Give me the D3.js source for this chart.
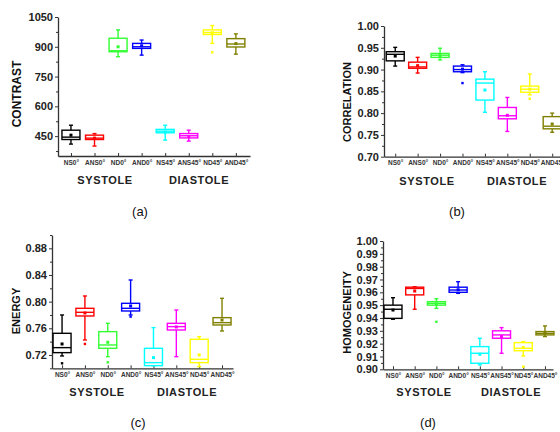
<!DOCTYPE html>
<html>
<head>
<meta charset="utf-8">
<script src="https://cdn.jsdelivr.net/npm/d3@7"></script>
<style>
  body { margin: 0; background: #fff; }
  svg { display: block; }
  text { font-family: "Liberation Sans", Arial, sans-serif; }
</style>
</head>
<body>
<script>
'use strict';

const width = 560;
const height = 432;

const categories = ['NS0°', 'ANS0°', 'ND0°', 'AND0°', 'NS45°', 'ANS45°', 'ND45°', 'AND45°'];
const boxColors = ['#000000', '#ff0000', '#33ff33', '#0000ff', '#00ffff', '#ff00ff', '#ffff00', '#808000'];

// [whisker low, q1, median, q3, whisker high]
const contrastBox = [[410, 433, 445, 480, 505], [400, 433, 440, 455, 463], [850, 875, 880, 943, 985], [858, 892, 900, 917, 934],
    [430, 467, 475, 484, 505], [425, 441, 452, 463, 480], [917, 962, 972, 985, 1007], [863, 899, 914, 941, 965]];
const contrastMean = [455, 440, 900, 905, 470, 448, 970, 916];
const contrastOutliers = [[], [], [], [], [], [], [872], []];
const contrastTicks = [450, 600, 750, 900, 1050];

const correlationBox = [[0.908, 0.920, 0.935, 0.941, 0.951], [0.892, 0.903, 0.906, 0.917, 0.928], [0.922, 0.928, 0.933, 0.937, 0.949],
    [0.893, 0.895, 0.900, 0.908, 0.911], [0.802, 0.830, 0.869, 0.878, 0.895], [0.758, 0.787, 0.794, 0.813, 0.836],
    [0.842, 0.848, 0.855, 0.862, 0.890], [0.756, 0.764, 0.770, 0.792, 0.800]];
const correlationMean = [0.931, 0.909, 0.932, 0.901, 0.853, 0.795, 0.855, 0.775];
const correlationOutliers = [[], [], [], [0.869], [], [], [0.833], []];
const correlationTicks = [0.70, 0.75, 0.80, 0.85, 0.90, 0.95, 1.00];

const energyBox = [[0.7185, 0.7235, 0.731, 0.7525, 0.780], [0.7425, 0.7785, 0.784, 0.790, 0.8085], [0.7175, 0.730, 0.735, 0.755, 0.7675],
    [0.780, 0.786, 0.790, 0.7975, 0.8325], [0.704, 0.704, 0.7085, 0.730, 0.761], [0.7175, 0.7575, 0.7625, 0.7675, 0.7875],
    [0.7025, 0.7085, 0.7135, 0.7435, 0.7475], [0.756, 0.765, 0.7685, 0.776, 0.805]];
const energyMean = [0.7365, 0.783, 0.739, 0.7935, 0.716, 0.762, 0.720, 0.7725];
const energyOutliers = [[0.7075], [0.7365], [0.709], [0.7775], [], [], [], []];
const energyTicks = [0.72, 0.76, 0.80, 0.84, 0.88];

const homogeneityBox = [[0.939, 0.9397, 0.9468, 0.950, 0.9558], [0.9468, 0.958, 0.963, 0.964, 0.9644], [0.9475, 0.950, 0.9514, 0.9527, 0.955],
    [0.9592, 0.960, 0.9618, 0.964, 0.9683], [0.9034, 0.9047, 0.9125, 0.9177, 0.9242], [0.9125, 0.9242, 0.9268, 0.930, 0.9325],
    [0.9104, 0.9145, 0.9164, 0.9208, 0.9216], [0.9255, 0.9268, 0.928, 0.9294, 0.9338]];
const homogeneityMean = [0.9462, 0.961, 0.951, 0.962, 0.9117, 0.9255, 0.917, 0.928];
const homogeneityOutliers = [[], [], [0.937], [], [], [], [0.902], []];
const homogeneityTicks = [0.90, 0.91, 0.92, 0.93, 0.94, 0.95, 0.96, 0.97, 0.98, 0.99, 1.00];

const svg = d3.select("body").append("svg").attr("width", width).attr("height", height);

function makePanel(p) {
    let g = svg.append("g");

    let xScale = d3.scaleLinear().domain(p.xDomain).range([p.left, p.right]);
    let yScale = d3.scaleLinear().domain(p.yDomain).range([p.bottom, p.top]);

    // minor ticks
    const yAxisMinor = d3.axisLeft(yScale).tickValues(p.minor).tickSize(2).tickFormat("");
    g.append("g")
        .attr("transform", "translate(" + p.left + ",0)")
        .call(yAxisMinor)
        .call(a => a.select(".domain").remove())
        .call(a => a.selectAll("line").attr("stroke", "#333"));

    const yAxis = d3.axisLeft(yScale).tickValues(p.ticks).tickSize(3).tickSizeOuter(0).tickPadding(2)
        .tickFormat(p.format);
    g.append("g")
        .attr("class", "y axis")
        .attr("transform", "translate(" + p.left + ",0)")
        .call(yAxis)
        .call(a => a.select(".domain").attr("stroke", "#333").attr("stroke-width", 1.3))
        .call(a => a.selectAll("line").attr("stroke", "#333"))
        .call(a => a.selectAll("text")
            .attr("font-size", "11px").attr("font-weight", "bold").attr("fill", "#222"));

    const xAxis = d3.axisBottom(xScale).tickValues(d3.range(1, 9)).tickSize(-3).tickSizeOuter(0)
        .tickPadding(4).tickFormat(i => categories[i - 1]);
    g.append("g")
        .attr("class", "x axis")
        .attr("transform", "translate(0," + p.bottom + ")")
        .call(xAxis)
        .call(a => a.select(".domain").attr("stroke", "#333").attr("stroke-width", 1.3))
        .call(a => a.selectAll("line").attr("stroke", "#333"))
        .call(a => a.selectAll("text")
            .attr("font-size", "6.5px").attr("font-weight", "bold").attr("fill", "#333"));

    const boxW = 18;
    p.box.forEach((b, i) => {
        let cx = xScale(i + 1);
        let c = boxColors[i];
        let bg = g.append("g").attr("stroke", c).attr("stroke-width", 1.4).attr("fill", "none");
        bg.append("line").attr("x1", cx).attr("x2", cx).attr("y1", yScale(b[0])).attr("y2", yScale(b[1]));
        bg.append("line").attr("x1", cx).attr("x2", cx).attr("y1", yScale(b[3])).attr("y2", yScale(b[4]));
        bg.append("line").attr("x1", cx - 2).attr("x2", cx + 2).attr("y1", yScale(b[0])).attr("y2", yScale(b[0]));
        bg.append("line").attr("x1", cx - 2).attr("x2", cx + 2).attr("y1", yScale(b[4])).attr("y2", yScale(b[4]));
        bg.append("rect")
            .attr("x", cx - boxW / 2).attr("width", boxW)
            .attr("y", yScale(b[3])).attr("height", yScale(b[1]) - yScale(b[3]))
            .attr("fill", "#fff");
        bg.append("line").attr("x1", cx - boxW / 2).attr("x2", cx + boxW / 2)
            .attr("y1", yScale(b[2])).attr("y2", yScale(b[2]));
        g.append("rect")
            .attr("x", cx - 1.5).attr("y", yScale(p.mean[i]) - 1.5)
            .attr("width", 3).attr("height", 3).attr("fill", c);
        p.outliers[i].forEach(v => {
            g.append("rect")
                .attr("x", cx - 1.2).attr("y", yScale(v) - 1.2)
                .attr("width", 2.4).attr("height", 2.4).attr("fill", c);
        });
    });

    g.append("text")
        .attr("transform", "translate(" + p.titleX + "," + p.titleY + ") rotate(-90)")
        .attr("text-anchor", "middle")
        .attr("font-size", p.titleSize).attr("font-weight", "bold").attr("fill", "#111")
        .text(p.title);

    [['SYSTOLE', p.sysX], ['DIASTOLE', p.diaX]].forEach(t => {
        g.append("text")
            .attr("x", t[1]).attr("y", p.groupY)
            .attr("text-anchor", "middle")
            .attr("font-size", "11px").attr("font-weight", "bold").attr("letter-spacing", "0.6px")
            .attr("fill", "#222")
            .text(t[0]);
    });

    g.append("text")
        .attr("x", p.labelX).attr("y", p.labelY)
        .attr("text-anchor", "middle")
        .attr("font-family", "'Liberation Serif', 'Times New Roman', serif")
        .attr("font-size", "13px").attr("fill", "#111")
        .text(p.label);
}

makePanel({
    box: contrastBox, mean: contrastMean, outliers: contrastOutliers,
    ticks: contrastTicks, minor: [375, 525, 675, 825, 975], format: d3.format('d'),
    xDomain: [0.45, 8.6], left: 58, right: 250,
    yDomain: [350, 1050], top: 17, bottom: 156,
    title: 'CONTRAST', titleX: 20.5, titleY: 94, titleSize: '12px',
    sysX: 105, diaX: 199, groupY: 184, label: '(a)', labelX: 140, labelY: 216
});

makePanel({
    box: correlationBox, mean: correlationMean, outliers: correlationOutliers,
    ticks: correlationTicks, minor: [0.725, 0.775, 0.825, 0.875, 0.925, 0.975], format: d3.format('.2f'),
    xDomain: [0.5, 8.5], left: 384, right: 563.4,
    yDomain: [0.70, 1.00], top: 26, bottom: 156.7,
    title: 'CORRELATION', titleX: 350.5, titleY: 102, titleSize: '11px',
    sysX: 427, diaX: 517, groupY: 185, label: '(b)', labelX: 457, labelY: 216
});

makePanel({
    box: energyBox, mean: energyMean, outliers: energyOutliers,
    ticks: energyTicks, minor: [0.70, 0.74, 0.78, 0.82, 0.86, 0.90], format: d3.format('.2f'),
    xDomain: [0.56, 8.48], left: 52, right: 233,
    yDomain: [0.70, 0.90], top: 235, bottom: 368.3,
    title: 'ENERGY', titleX: 19.5, titleY: 311, titleSize: '11px',
    sysX: 97, diaX: 187, groupY: 395.5, label: '(c)', labelX: 138, labelY: 427
});

makePanel({
    box: homogeneityBox, mean: homogeneityMean, outliers: homogeneityOutliers,
    ticks: homogeneityTicks, minor: d3.range(0.905, 1.0, 0.01), format: d3.format('.2f'),
    xDomain: [0.54, 8.37], left: 383, right: 553,
    yDomain: [0.90, 1.00], top: 241, bottom: 369.3,
    title: 'HOMOGENEITY', titleX: 350.5, titleY: 312.5, titleSize: '11px',
    sysX: 424, diaX: 511, groupY: 395.5, label: '(d)', labelX: 428, labelY: 427
});
</script>
</body>
</html>
